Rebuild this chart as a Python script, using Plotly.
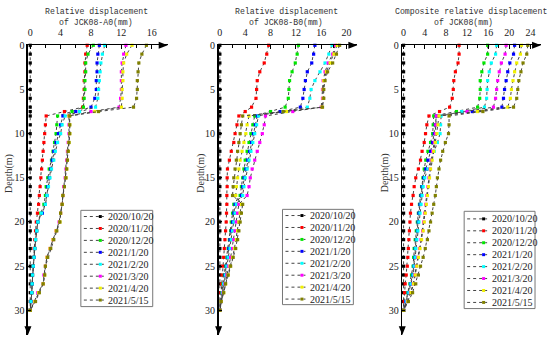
import plotly.graph_objects as go

W, H = 550, 340

# ---------------- data ----------------
depth = [0, 1, 2, 3, 4, 5, 6, 7, 7.5, 8, 9, 10, 11, 12, 13, 14, 15, 16, 17, 18, 19,
         20, 21, 22, 23, 24, 25, 26, 27, 28, 29, 30]
dates = ["2020/10/20", "2020/11/20", "2020/12/20", "2021/1/20",
         "2021/2/20", "2021/3/20", "2021/4/20", "2021/5/15"]
colors = ["#000000", "#ff0000", "#00e600", "#0000ff",
          "#00ffff", "#ff00ff", "#f0f000", "#808000"]

zero = [0, 0, 0, 0, 0, 0, 0, 0, 0, 0, 0, 0, 0, 0, 0, 0, 0, 0, 0, 0, 0, 0, 0, 0, 0, 0, 0, 0, 0, 0, 0, 0]

# JCK08-A0
a0_1120 = [7.5, 7.3, 7.2, 7.2, 7.1, 7.1, 7.0, 6.9, 4.5, 2.1, 2.0, 1.9, 1.8, 1.7, 1.6, 1.5, 1.4, 1.3, 1.2, 1.1, 0.95,
           0.8, 0.7, 0.6, 0.5, 0.45, 0.4, 0.3, 0.25, 0.2, 0.1, 0.0]
a0_1220 = [8.3, 7.6, 7.3, 7.3, 7.2, 7.2, 7.1, 7.0, 5.5, 3.6, 3.5, 3.4, 3.2, 3.0, 2.8, 2.5, 2.3, 2.1, 2.0, 1.8, 1.4,
           1.0, 0.85, 0.7, 0.6, 0.5, 0.4, 0.3, 0.25, 0.2, 0.1, 0.0]
a0_0120 = [9.1, 8.9, 8.8, 8.8, 8.7, 8.7, 8.5, 8.0, 6.0, 4.3, 4.0, 3.7, 3.4, 3.1, 2.9, 2.7, 2.5, 2.3, 2.2, 2.0, 1.6,
           1.0, 0.85, 0.7, 0.6, 0.5, 0.4, 0.3, 0.25, 0.2, 0.1, 0.0]
a0_0220 = [9.8, 9.5, 9.3, 9.2, 9.1, 9.0, 8.9, 8.6, 6.5, 4.6, 4.2, 4.0, 3.6, 3.3, 3.1, 2.8, 2.6, 2.4, 2.2, 2.0, 1.5,
           1.0, 0.85, 0.7, 0.6, 0.5, 0.4, 0.3, 0.25, 0.2, 0.1, 0.0]
a0_0320 = [12.6, 12.3, 12.1, 12.0, 12.0, 12.0, 11.9, 11.7, 8.0, 5.1, 5.1, 5.1, 5.0, 4.9, 4.8, 4.7, 4.6, 4.4, 4.3, 4.2, 4.0,
           3.8, 3.4, 3.0, 2.6, 2.2, 2.0, 1.8, 1.7, 1.0, 0.55, 0.0]
a0_0420 = [13.4, 12.7, 12.3, 12.2, 12.2, 12.1, 12.1, 12.0, 8.5, 5.1, 5.2, 5.2, 5.1, 5.0, 4.9, 4.8, 4.7, 4.5, 4.3, 4.2, 4.0,
           3.9, 3.4, 3.0, 2.6, 2.2, 2.0, 1.9, 1.7, 1.1, 0.6, 0.0]
a0_0515 = [15.3, 14.7, 14.3, 14.2, 14.1, 14.1, 14.0, 13.6, 9.0, 5.2, 5.2, 5.2, 5.1, 5.0, 4.9, 4.8, 4.7, 4.5, 4.3, 4.2, 4.0,
           3.9, 3.5, 3.1, 2.7, 2.3, 2.0, 1.9, 1.7, 1.2, 0.7, 0.0]

# JCK08-B0
b0_1120 = [7.7, 7.4, 7.0, 6.3, 5.9, 5.8, 5.7, 5.0, 4.0, 3.0, 2.7, 2.4, 2.2, 1.8, 1.5, 1.2, 1.15, 1.15, 1.1, 1.1, 1.05,
           1.0, 0.9, 0.8, 0.7, 0.6, 0.45, 0.35, 0.25, 0.15, 0.05, 0.0]
b0_1220 = [12.4, 12.2, 11.9, 11.4, 11.0, 10.9, 10.8, 10.3, 8.0, 5.5, 5.2, 4.9, 4.6, 4.3, 4.0, 3.8, 3.6, 3.4, 3.2, 2.2,
           2.0, 1.8, 1.7, 1.5, 1.3, 1.1, 0.9, 0.7, 0.5, 0.3, 0.1, 0.0]
b0_0120 = [15.0, 14.8, 14.5, 13.8, 13.5, 13.3, 13.1, 12.7, 9.5, 5.9, 5.6, 5.3, 5.0, 4.7, 4.4, 4.1, 3.8, 3.6, 3.4, 2.4,
           2.2, 2.0, 1.8, 1.6, 1.4, 1.2, 1.0, 0.8, 0.6, 0.4, 0.2, 0.0]
b0_0220 = [17.7, 17.2, 16.6, 15.8, 15.0, 14.4, 14.2, 13.8, 10.0, 6.1, 5.8, 5.5, 5.2, 4.9, 4.6, 4.3, 4.0, 3.8, 3.6, 2.6,
           2.4, 2.2, 2.0, 1.8, 1.6, 1.3, 1.1, 0.9, 0.6, 0.4, 0.2, 0.0]
b0_0320 = [18.2, 17.8, 17.1, 16.6, 16.3, 16.2, 16.2, 16.0, 11.5, 7.2, 7.0, 6.7, 6.3, 5.9, 5.5, 5.1, 4.8, 4.6, 4.3, 3.0,
           2.8, 2.6, 2.4, 2.2, 2.0, 1.7, 1.4, 1.1, 0.8, 0.5, 0.2, 0.0]
b0_0420 = [18.5, 18.0, 17.4, 16.8, 16.4, 16.3, 16.3, 16.1, 10.5, 4.6, 4.3, 4.1, 3.8, 3.5, 3.2, 3.0, 2.8, 2.6, 2.5, 3.4,
           3.2, 3.0, 2.8, 2.6, 2.3, 2.0, 1.6, 1.3, 0.9, 0.6, 0.2, 0.0]
b0_0515 = [18.9, 18.4, 17.8, 17.0, 16.6, 16.4, 16.4, 16.2, 10.0, 3.6, 3.4, 3.2, 3.0, 2.8, 2.6, 2.4, 2.2, 2.1, 2.0, 3.6,
           3.4, 3.2, 3.0, 2.8, 2.5, 2.1, 1.7, 1.3, 0.9, 0.6, 0.2, 0.0]

# Composite JCK08
c_1120 = [10.5, 10.5, 10.3, 9.8, 9.5, 9.4, 9.2, 8.7, 6.8, 4.8, 4.4, 4.15, 3.9, 3.5, 3.2, 2.8, 2.3, 2.0, 1.8, 1.5, 1.3,
          1.2, 1.1, 1.0, 0.9, 0.8, 0.7, 0.5, 0.3, 0.2, 0.1, 0.0]
c_1220 = [15.9, 15.9, 15.2, 14.8, 14.5, 14.5, 14.4, 14.0, 10.0, 5.7, 5.6, 5.5, 5.1, 4.6, 4.2, 3.9, 3.65, 3.4, 3.2, 3.0,
          2.8, 2.6, 2.4, 2.2, 2.0, 1.9, 1.8, 1.5, 1.2, 0.8, 0.4, 0.0]
c_0120 = [21.0, 20.8, 20.1, 19.7, 19.4, 19.1, 18.9, 18.6, 13.0, 6.2, 6.0, 5.8, 5.5, 5.1, 4.6, 4.2, 3.8, 3.5, 3.3, 3.1,
          2.9, 2.75, 2.6, 2.4, 2.2, 2.1, 1.95, 1.7, 1.3, 0.9, 0.4, 0.0]
c_0220 = [17.6, 17.4, 16.6, 16.2, 15.9, 15.8, 15.7, 15.3, 11.0, 7.1, 7.0, 6.9, 6.4, 5.8, 5.2, 4.6, 4.0, 3.7, 3.5, 3.3,
          3.1, 2.9, 2.7, 2.5, 2.3, 2.2, 2.0, 1.8, 1.4, 1.0, 0.5, 0.0]
c_0320 = [19.4, 19.2, 18.5, 18.1, 17.8, 17.6, 17.4, 17.0, 12.0, 6.2, 6.1, 6.0, 5.8, 5.5, 5.2, 5.0, 4.8, 4.6, 4.4, 4.2,
          4.0, 3.8, 3.6, 3.3, 3.0, 2.7, 2.4, 2.1, 1.8, 1.3, 0.7, 0.0]
c_0420 = [22.3, 22.1, 21.4, 21.0, 20.7, 20.4, 20.2, 19.7, 14.0, 6.7, 6.5, 6.3, 6.0, 5.7, 5.4, 5.1, 4.9, 4.7, 4.5, 4.3,
          4.1, 3.9, 3.7, 3.4, 3.1, 2.8, 2.5, 2.2, 1.9, 1.4, 0.8, 0.0]
c_0515 = [23.5, 23.3, 22.6, 22.2, 21.8, 21.6, 21.4, 20.8, 15.0, 8.6, 8.6, 8.5, 7.9, 7.4, 7.0, 6.7, 6.4, 6.2, 6.0, 5.7,
          5.4, 5.1, 4.8, 4.5, 4.1, 3.7, 3.2, 2.8, 2.3, 1.7, 0.9, 0.0]

titles = [("Relative displacement", "of JCK08-A0(mm)"),
          ("Relative displacement", "of JCK08-B0(mm)"),
          ("Composite relative displacement", "of JCK08(mm)")]
series = [
    [zero, a0_1120, a0_1220, a0_0120, a0_0220, a0_0320, a0_0420, a0_0515],
    [zero, b0_1120, b0_1220, b0_0120, b0_0220, b0_0320, b0_0420, b0_0515],
    [zero, c_1120, c_1220, c_0120, c_0220, c_0320, c_0420, c_0515],
]
x_ranges = [(-0.3, 18.1), (-0.2, 21.7), (-0.25, 26.0)]
depth_range = (32.8, 0)

# ---------------- layout geometry (pixels) ----------------
panels_px = [(27, 167), (218, 357), (402, 541)]
y_top, y_bot = 40, 335
title_cx = [(96, 95), (286, 286), (471, 463)]
ytitle_x = [8, 200, 385]
legend_box = [(80, 208, 152, 306), (282, 207, 353, 304), (464, 209, 535, 308)]
legend_row0 = [214.3, 213.3, 216.7]
legend_dy = 12.15


def px(x):
    return x / W


def py(y):
    return 1 - y / H


fig = go.Figure()
shapes, annotations = [], []
serif = "Liberation Serif, Times New Roman, serif"
mono = "Liberation Mono, DejaVu Sans Mono, monospace"

for i in range(3):
    k = "" if i == 0 else str(i + 1)
    for j, vals in enumerate(series[i]):
        fig.add_trace(go.Scatter(
            x=vals, y=depth, mode="lines+markers", name=dates[j],
            line=dict(color="#444444", dash="dot", width=1),
            marker=dict(symbol="square", size=3.2, color=colors[j]),
            xaxis="x" + k, yaxis="y" + k, showlegend=False, cliponaxis=False,
            hoverinfo="skip"))
    x0, x1 = panels_px[i]
    fig.layout["xaxis" + k] = dict(
        domain=[px(x0), px(x1)], range=list(x_ranges[i]), side="top",
        anchor="y" + k, showline=True, linecolor="black", linewidth=1.5,
        ticks="inside", ticklen=4, tickcolor="black", dtick=4, tick0=0,
        minor=dict(dtick=2, ticks="inside", ticklen=3, tickcolor="black"),
        showgrid=False, zeroline=False, ticklabelstandoff=4, fixedrange=True,
        tickfont=dict(family=serif, size=10, color="#222"))
    fig.layout["yaxis" + k] = dict(
        domain=[py(y_bot), py(y_top)], range=list(depth_range),
        anchor="x" + k, showline=True, linecolor="black", linewidth=1.5,
        ticks="inside", ticklen=3, tickcolor="black", dtick=5, tick0=0,
        showgrid=False, zeroline=False, fixedrange=True,
        tickfont=dict(family=serif, size=10, color="#222"))
    # arrowheads
    shapes.append(dict(type="path", xref="paper", yref="paper",
                       path=f"M {px(x1)},{py(y_top)} L {px(x1-9)},{py(y_top-3.5)} L {px(x1-9)},{py(y_top+3.5)} Z",
                       fillcolor="black", line=dict(width=0)))
    shapes.append(dict(type="path", xref="paper", yref="paper",
                       path=f"M {px(x0)},{py(y_bot)} L {px(x0-3.5)},{py(y_bot-9)} L {px(x0+3.5)},{py(y_bot-9)} Z",
                       fillcolor="black", line=dict(width=0)))
    # titles
    annotations.append(dict(text=titles[i][0], x=px(title_cx[i][0]), y=py(6), xref="paper", yref="paper",
                            showarrow=False, xanchor="center", yanchor="middle",
                            font=dict(family=mono, size=8.2, color="#333")))
    annotations.append(dict(text=titles[i][1], x=px(title_cx[i][1]), y=py(17), xref="paper", yref="paper",
                            showarrow=False, xanchor="center", yanchor="middle",
                            font=dict(family=mono, size=8.2, color="#333")))
    annotations.append(dict(text="Depth(m)", x=px(ytitle_x[i]), y=py(170), xref="paper", yref="paper",
                            showarrow=False, xanchor="center", yanchor="middle", textangle=-90,
                            font=dict(family=serif, size=10, color="#333")))
    # legend
    bx0, by0, bx1, by1 = legend_box[i]
    shapes.append(dict(type="rect", xref="paper", yref="paper",
                       x0=px(bx0), x1=px(bx1), y0=py(by1), y1=py(by0),
                       line=dict(color="#777", width=1), fillcolor="white"))
    for j in range(8):
        yy = legend_row0[i] + j * legend_dy
        shapes.append(dict(type="line", xref="paper", yref="paper",
                           x0=px(bx0 + 3), x1=px(bx0 + 23), y0=py(yy), y1=py(yy),
                           line=dict(color="#444444", width=1, dash="dot")))
        shapes.append(dict(type="rect", xref="paper", yref="paper",
                           x0=px(bx0 + 18), x1=px(bx0 + 21), y0=py(yy + 1.5), y1=py(yy - 1.5),
                           line=dict(width=0), fillcolor=colors[j]))
        annotations.append(dict(text=dates[j], x=px(bx0 + 25.5), y=py(yy), xref="paper", yref="paper",
                                showarrow=False, xanchor="left", yanchor="middle",
                                font=dict(family=serif, size=10, color="#222")))

fig.update_layout(width=W, height=H, margin=dict(l=0, r=0, t=0, b=0),
                  paper_bgcolor="white", plot_bgcolor="white",
                  shapes=shapes, annotations=annotations, showlegend=False,
                  hovermode=False)
fig.write_html("out.html", config={"displayModeBar": False, "staticPlot": True},
               post_script="document.body.style.margin='0';")
